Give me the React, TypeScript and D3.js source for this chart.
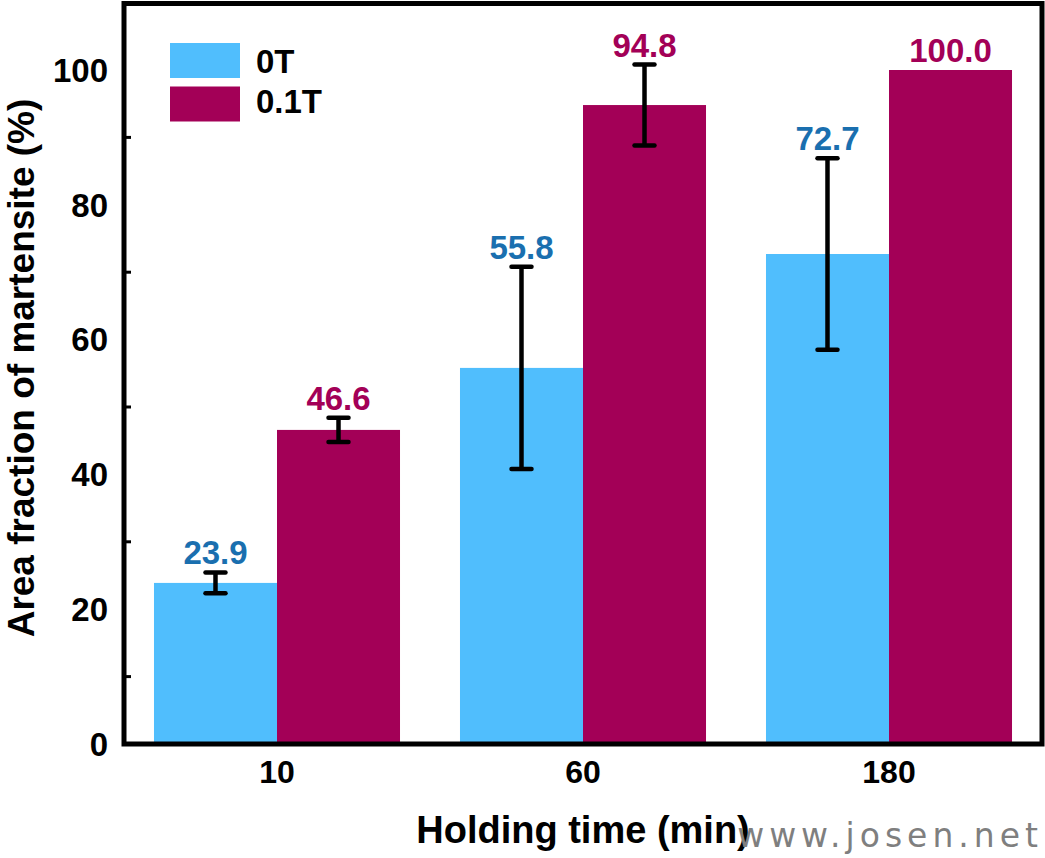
import React from "react";
import * as d3 from "d3";

const categories = ["10", "60", "180"];
const seriesNames = ["0T", "0.1T"];
const values0T = [23.9, 55.8, 72.7];
const values01T = [46.6, 94.8, 100.0];
const errors0T = [1.55, 15.0, 14.2];
const errors01T = [1.8, 6.0, 0];
const yTicks = [0, 20, 40, 60, 80, 100];
const yMinorTicks = [10, 30, 50, 70, 90];

const barColors = ["#50BEFD", "#A30057"];
const labelColors = ["#1A6FAF", "#A30057"];

const W = 1045;
const H = 858;
const left = 124;
const right = 1042;
const top = 3.5;
const bottom = 744;

export default function App() {
  const x = d3
    .scaleBand<string>()
    .domain(categories)
    .range([left, right])
    .paddingInner(0.196)
    .paddingOuter(0.098);
  const x1 = d3
    .scaleBand<string>()
    .domain(seriesNames)
    .range([0, x.bandwidth()]);
  const y = d3.scaleLinear().domain([0, 100]).range([bottom, 70]);

  const series = [
    { name: seriesNames[0], vals: values0T, errs: errors0T },
    { name: seriesNames[1], vals: values01T, errs: errors01T },
  ];

  const font = "'Liberation Sans', Arial, sans-serif";

  return (
    <svg
      width={W}
      height={H}
      style={{ position: "absolute", left: 0, top: 0, background: "#fff" }}
      fontFamily={font}
    >
      <rect x={0} y={0} width={W} height={H} fill="#fff" />
      {/* bars */}
      {series.map((s, si) =>
        categories.map((c, ci) => {
          const bx = (x(c) as number) + (x1(s.name) as number);
          return (
            <rect
              key={`b-${si}-${ci}`}
              x={bx}
              y={y(s.vals[ci])}
              width={x1.bandwidth()}
              height={y(0) - y(s.vals[ci])}
              fill={barColors[si]}
            />
          );
        })
      )}
      {/* error bars */}
      {series.map((s, si) =>
        categories.map((c, ci) => {
          const e = s.errs[ci];
          if (!e) return null;
          const cx = (x(c) as number) + (x1(s.name) as number) + x1.bandwidth() / 2;
          const y1 = y(s.vals[ci] + e);
          const y2 = y(s.vals[ci] - e);
          return (
            <g key={`e-${si}-${ci}`} stroke="#000" strokeWidth={4.5}>
              <line x1={cx} x2={cx} y1={y1} y2={y2} />
              <line x1={cx - 10} x2={cx + 10} y1={y1} y2={y1} strokeLinecap="round" />
              <line x1={cx - 10} x2={cx + 10} y1={y2} y2={y2} strokeLinecap="round" />
            </g>
          );
        })
      )}
      {/* value labels */}
      {series.map((s, si) =>
        categories.map((c, ci) => {
          const cx = (x(c) as number) + (x1(s.name) as number) + x1.bandwidth() / 2;
          const yy = y(s.vals[ci] + s.errs[ci]) - 8;
          return (
            <text
              key={`l-${si}-${ci}`}
              x={cx}
              y={yy}
              textAnchor="middle"
              fontSize={33}
              fontWeight="bold"
              fill={labelColors[si]}
            >
              {s.vals[ci].toFixed(1)}
            </text>
          );
        })
      )}
      {/* frame */}
      <rect
        x={left}
        y={top}
        width={right - left}
        height={bottom - top}
        fill="none"
        stroke="#000"
        strokeWidth={5}
      />
      {/* minor ticks */}
      {yMinorTicks.map((t) => (
        <line
          key={`m-${t}`}
          x1={left}
          x2={left + 7}
          y1={y(t)}
          y2={y(t)}
          stroke="#000"
          strokeWidth={3}
        />
      ))}
      {/* y tick labels */}
      {yTicks.map((t) => (
        <text
          key={`y-${t}`}
          x={108}
          y={y(t)}
          dy="0.36em"
          textAnchor="end"
          fontSize={33}
          fontWeight="bold"
          fill="#000"
        >
          {t}
        </text>
      ))}
      {/* x tick labels */}
      {categories.map((c) => (
        <text
          key={`x-${c}`}
          x={(x(c) as number) + x.bandwidth() / 2}
          y={783}
          textAnchor="middle"
          fontSize={32}
          fontWeight="bold"
          fill="#000"
        >
          {c}
        </text>
      ))}
      {/* axis titles */}
      <text
        x={583}
        y={843}
        textAnchor="middle"
        fontSize={38}
        fontWeight="bold"
        fill="#000"
      >
        Holding time (min)
      </text>
      <text
        transform={`translate(34, 368) rotate(-90)`}
        textAnchor="middle"
        fontSize={37}
        fontWeight="bold"
        fill="#000"
      >
        Area fraction of martensite (%)
      </text>
      {/* legend */}
      {seriesNames.map((n, i) => (
        <g key={`lg-${n}`}>
          <rect x={170} y={43 + i * 43.5} width={70} height={35} fill={barColors[i]} />
          <text
            x={256}
            y={73 + i * 39.5}
            fontSize={33}
            fontWeight="bold"
            fill="#000"
          >
            {n}
          </text>
        </g>
      ))}
      {/* watermark */}
      <text
        x={1043}
        y={847}
        textAnchor="end"
        fontSize={33}
        letterSpacing={5}
        fontFamily="'DejaVu Sans', sans-serif"
        fill="#7F7F7F"
      >
        www.josen.net
      </text>
    </svg>
  );
}
